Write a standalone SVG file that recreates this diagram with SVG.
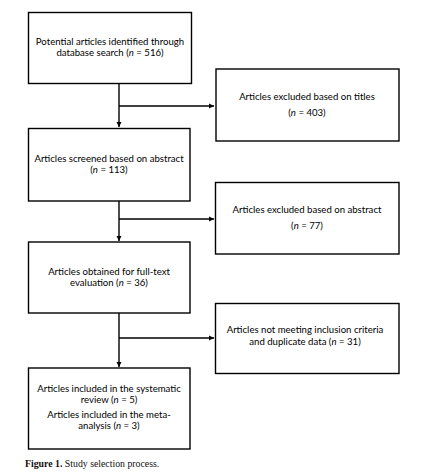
<svg xmlns="http://www.w3.org/2000/svg" width="423" height="476" viewBox="0 0 423 476">
<style>
.box{fill:#fff;stroke:#000;stroke-width:1.4}
.t{font-family:Lato,"Open Sans","Liberation Sans",sans-serif;font-size:9.6px;fill:#000;text-anchor:middle}
.c{fill:none;stroke:#000;stroke-width:1.4}
.cap{font-family:"Liberation Serif",serif;font-size:9.8px;fill:#111}
</style>
<defs>
<marker id="ah" markerWidth="6" markerHeight="6" refX="5" refY="3" orient="auto" markerUnits="userSpaceOnUse">
<path d="M0,0.5 L5,3 L0,5.5 Z" fill="#000"/>
</marker>
</defs>
<rect width="423" height="476" fill="#fff"/>
<g id="connectors">
<path class="c" d="M119,83 V127" marker-end="url(#ah)"/>
<path class="c" d="M119,106 H214" marker-end="url(#ah)"/>
<path class="c" d="M119,201 V241" marker-end="url(#ah)"/>
<path class="c" d="M119,219 H214" marker-end="url(#ah)"/>
<path class="c" d="M119,313 V367" marker-end="url(#ah)"/>
<path class="c" d="M119,338 H214" marker-end="url(#ah)"/>
</g>
<g id="n1">
<rect class="box" x="28.5" y="12.5" width="163" height="71"/>
<text class="t" x="110" y="45">Potential articles identified through</text>
<text class="t" x="110" y="56">database search (<tspan font-style="italic">n</tspan> = 516)</text>
</g>
<g id="n2">
<rect class="box" x="216" y="69" width="183" height="72"/>
<text class="t" x="307" y="100">Articles excluded based on titles</text>
<text class="t" x="307" y="116">(<tspan font-style="italic">n</tspan> = 403)</text>
</g>
<g id="n3">
<rect class="box" x="28.5" y="128.5" width="161.5" height="72.5"/>
<text class="t" x="109" y="162">Articles screened based on abstract</text>
<text class="t" x="109" y="173">(<tspan font-style="italic">n</tspan> = 113)</text>
</g>
<g id="n4">
<rect class="box" x="215.5" y="182.5" width="183.5" height="71.5"/>
<text class="t" x="307" y="213">Articles excluded based on abstract</text>
<text class="t" x="307" y="229">(<tspan font-style="italic">n</tspan> = 77)</text>
</g>
<g id="n5">
<rect class="box" x="28.5" y="242" width="161.5" height="71"/>
<text class="t" x="109" y="275">Articles obtained for full-text</text>
<text class="t" x="109" y="286">evaluation  (<tspan font-style="italic">n</tspan> = 36)</text>
</g>
<g id="n6">
<rect class="box" x="215.5" y="303.5" width="183.5" height="70"/>
<text class="t" x="305" y="333">Articles not meeting inclusion criteria</text>
<text class="t" x="305" y="345">and duplicate data (<tspan font-style="italic">n</tspan> = 31)</text>
</g>
<g id="n7">
<rect class="box" x="28.5" y="368" width="161.5" height="81"/>
<text class="t" x="109" y="392">Articles included in the systematic</text>
<text class="t" x="109" y="403">review (<tspan font-style="italic">n</tspan> = 5)</text>
<text class="t" x="109" y="418">Articles included in the meta-</text>
<text class="t" x="109" y="429">analysis (<tspan font-style="italic">n</tspan> = 3)</text>
</g>
<text class="cap" x="25" y="467"><tspan font-weight="bold">Figure 1.</tspan> Study selection process.</text>
</svg>
